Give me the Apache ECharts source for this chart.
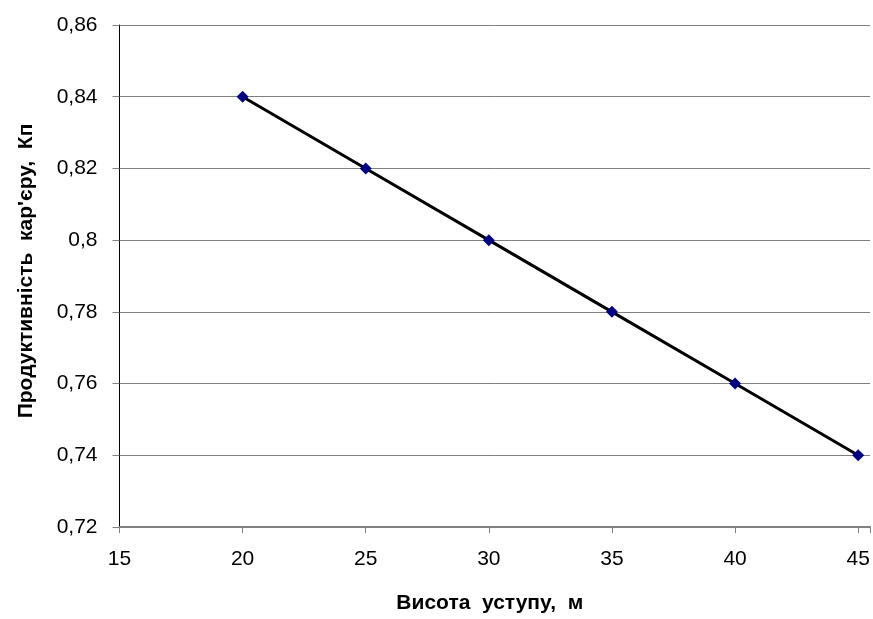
<!DOCTYPE html>
<html><head><meta charset="utf-8">
<script src="https://cdn.jsdelivr.net/npm/echarts@6/dist/echarts.min.js"></script>
<style>html,body{margin:0;padding:0;background:#fff}#c{width:873px;height:619px}</style>
</head><body><div id="c"></div>
<script>
const heights = [20, 25, 30, 35, 40, 45];
const productivity = [0.84, 0.82, 0.80, 0.78, 0.76, 0.74];
const xTitle = 'Висота  уступу,  м';
const yTitle = "Продуктивність  кар'єру,  Кп";

const fmt = v => String(Math.round(v * 100) / 100).replace('.', ',');
const chart = echarts.init(document.getElementById('c'));
chart.setOption({
  animation: false,
  grid: { left: 119.5, right: 0, top: 25, bottom: 88, containLabel: false },
  xAxis: {
    type: 'value', min: 15, max: 45.48, interval: 5,
    name: xTitle, nameLocation: 'middle', nameGap: 66,
    nameTextStyle: { fontFamily: 'Liberation Sans', fontWeight: 'bold', fontSize: 21, color: '#000', padding: [0, 10, 0, 0] },
    axisLine: { lineStyle: { color: '#808080', width: 2 } },
    axisTick: { show: true, length: 6, lineStyle: { color: '#808080', width: 1 } },
    axisLabel: { fontFamily: 'Liberation Sans', fontSize: 21, color: '#000', margin: 22,
      formatter: v => (Math.abs(v - Math.round(v)) < 1e-6 && Math.round(v) % 5 === 0) ? String(Math.round(v)) : '' },
    splitLine: { show: false }
  },
  yAxis: {
    type: 'value', min: 0.72, max: 0.86, interval: 0.02,
    name: yTitle, nameLocation: 'middle', nameGap: 83, nameRotate: 90,
    nameTextStyle: { fontFamily: 'Liberation Sans', fontWeight: 'bold', fontSize: 21, color: '#000', padding: [0, 0, 0, 10] },
    axisLine: { show: true, lineStyle: { color: '#000', width: 1 } },
    axisTick: { show: true, length: 7, lineStyle: { color: '#808080' } },
    axisLabel: { fontFamily: 'Liberation Sans', fontSize: 21, color: '#000', margin: 22, formatter: fmt },
    splitLine: { show: true, lineStyle: { color: '#808080', width: 1 } }
  },
  series: [{
    type: 'line',
    data: heights.map((h, i) => [h, productivity[i]]),
    symbol: 'diamond', symbolSize: 12,
    itemStyle: { color: '#000080' },
    lineStyle: { color: '#000', width: 3 },
    z: 3
  }]
});
</script></body></html>
